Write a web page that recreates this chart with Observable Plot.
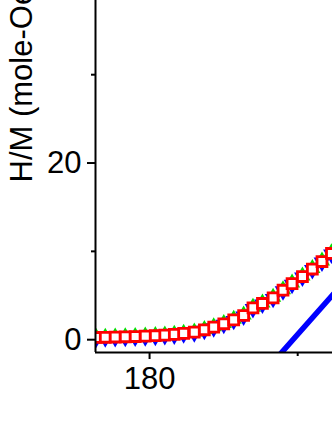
<!DOCTYPE html>
<html>
<head>
<meta charset="utf-8">
<script src="https://cdn.jsdelivr.net/npm/d3@7"></script>
<script src="https://cdn.jsdelivr.net/npm/@observablehq/plot@0.6"></script>
<style>
  html, body { margin: 0; padding: 0; background: #fff; }
  #chart svg { display: block; font-family: "Liberation Sans", Arial, sans-serif; }
</style>
</head>
<body>
<div id="chart"></div>
<script>
// Temperature (K)
const temps = [176.40, 177.01, 177.68, 178.36, 179.03, 179.71, 180.39, 181.03, 181.67, 182.30,
               183.02, 183.70, 184.33, 185.01, 185.68, 186.35, 186.98, 187.62, 188.34, 189.01,
               189.62, 190.32, 190.99, 191.64, 192.28];
// H/M series (mole-Oe/emu)
const redHM   = [0.25, 0.27, 0.30, 0.33, 0.36, 0.40, 0.45, 0.52, 0.60, 0.72,
                 0.85, 1.12, 1.42, 1.80, 2.25, 2.74, 3.60, 4.10, 4.74, 5.60,
                 6.35, 7.15, 8.00, 8.85, 9.76];
const greenHM = [0.28, 0.30, 0.33, 0.36, 0.39, 0.43, 0.48, 0.55, 0.63, 0.76,
                 0.90, 1.17, 1.48, 1.86, 2.32, 2.82, 3.68, 4.18, 4.82, 5.68,
                 6.44, 7.24, 8.09, 8.94, 9.86];
const blueHM  = [0.15, 0.17, 0.20, 0.23, 0.26, 0.30, 0.35, 0.42, 0.50, 0.62,
                 0.75, 1.02, 1.32, 1.70, 2.15, 2.64, 3.50, 4.00, 4.64, 5.50,
                 6.25, 7.05, 7.90, 8.75, 9.66];
// Linear (Curie-Weiss) fit line
const fitT  = [188.5, 193.0];
const fitHM = [-2.24, 6.28];

const xDomain = [176.35, 192.35];
const yDomain = [-1.45, 38.4];
const xMajor = [180, 200];
const xMinor = [170, 190];
const yMajor = [0, 20, 40];
const yMinor = [10, 30];
const yLabel = "H/M (mole-Oe/emu)";

const pts = temps.map((t, i) => ({t, r: redHM[i], g: greenHM[i], b: blueHM[i]}));
const fit = fitT.map((t, i) => ({t, v: fitHM[i]}));

const chart = Plot.plot({
  width: 332,
  height: 430,
  marginLeft: 95,
  marginRight: 0,
  marginTop: 0,
  marginBottom: 78,
  style: {background: "#fff", color: "#000", fontFamily: "Liberation Sans, Arial, sans-serif"},
  x: {domain: xDomain},
  y: {domain: yDomain},
  marks: [
    Plot.line(fit, {x: "t", y: "v", stroke: "#0000ff", strokeWidth: 5.5, clip: true}),
    Plot.dot(pts, {x: "t", y: "b", symbol: "triangle", rotate: 180, r: 6.2, fill: "#0000ff", stroke: "none", clip: true}),
    Plot.dot(pts, {x: "t", y: "g", symbol: "triangle", r: 6.0, fill: "#00dd00", stroke: "none", clip: true}),
    Plot.dot(pts, {x: "t", y: "r", symbol: "square", r: 5.6, fill: "#fff", stroke: "#ff0000", strokeWidth: 2.8, clip: true}),
    Plot.ruleX([xDomain[0]], {stroke: "#000", strokeWidth: 2}),
    Plot.ruleY([yDomain[0]], {stroke: "#000", strokeWidth: 2}),
    Plot.axisY(yMajor.filter(v => v >= yDomain[0] && v <= yDomain[1]), {tickSize: 8, tickPadding: 6, fontSize: 31, strokeWidth: 2, label: null, tickFormat: d3.format("d")}),
    Plot.axisY(yMinor.filter(v => v >= yDomain[0] && v <= yDomain[1]), {tickSize: 4, strokeWidth: 2, label: null, tickFormat: () => ""}),
    Plot.axisX(xMajor.filter(v => v >= xDomain[0] && v <= xDomain[1]), {tickSize: 7, tickPadding: 7, fontSize: 31, strokeWidth: 2, label: null, tickFormat: d3.format("d")}),
    Plot.axisX(xMinor.filter(v => v >= xDomain[0] && v <= xDomain[1]), {tickSize: 4, strokeWidth: 2, label: null, tickFormat: () => ""}),
    Plot.text([yLabel], {frameAnchor: "bottom-left", rotate: -90, textAnchor: "start", lineAnchor: "bottom",
      dx: -63.3, dy: -170, fontSize: 31, fill: "#000"})
  ]
});
document.getElementById("chart").appendChild(chart);
</script>
</body>
</html>
